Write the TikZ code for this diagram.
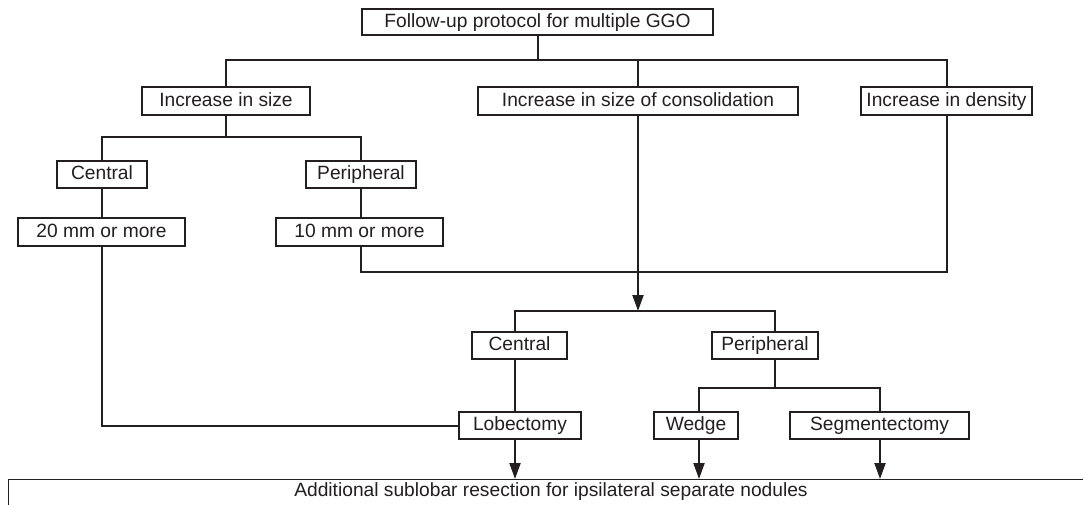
\documentclass[tikz,border=0pt]{standalone}
\usepackage{fontspec}
\setmainfont{Liberation Sans}
\usetikzlibrary{arrows.meta}
\definecolor{ink}{HTML}{231F20}
\begin{document}
\begin{tikzpicture}[x=1pt,y=-1pt,
  lbl/.style={text=ink, font=\fontsize{19.2}{21}\selectfont},
  box/.style={lbl, draw=ink, line width=1.2pt, inner sep=0pt, minimum height=27pt, text height=13.7pt, text depth=3.4pt},
  conn/.style={draw=ink, line width=2pt},
  arr/.style={conn, -{Triangle[length=16pt,width=11pt]}}]
\useasboundingbox (0,0) rectangle (1083,505);
\fill[white] (0,0) rectangle (1083,505);
% nodes
\node[box, minimum width=351pt, minimum height=26pt] (top) at (537.5,22) {Follow-up protocol for multiple GGO};
\node[box, minimum width=168pt, minimum height=28pt] (inc) at (226,101) {Increase in size};
\node[box, minimum width=320pt, minimum height=28pt] (cons) at (638,101) {Increase in size of consolidation};
\node[box, minimum width=171pt, minimum height=28pt] (dens) at (946.5,101) {Increase in density};
\node[box, minimum width=90pt] (c1) at (102,174.5) {Central};
\node[box, minimum width=110pt] (p1) at (361,174.5) {Peripheral};
\node[box, minimum width=167pt, minimum height=28pt] (t20) at (101.5,232) {20 mm or more};
\node[box, minimum width=167pt, minimum height=28pt] (t10) at (359.5,232) {10 mm or more};
\node[box, minimum width=95pt] (c2) at (519.5,345.5) {Central};
\node[box, minimum width=106pt] (p2) at (765,345.5) {Peripheral};
\node[box, minimum width=122pt] (lob) at (520,425.5) {Lobectomy};
\node[box, minimum width=84pt] (wed) at (696,425.5) {Wedge};
\node[box, minimum width=179pt] (seg) at (879.5,425.5) {Segmentectomy};
\node[draw=ink, line width=1.2pt, inner sep=0pt, minimum width=1100pt, minimum height=60pt, anchor=north west] (bot) at (8,479) {};
\node[lbl, anchor=base, inner sep=0pt] (bottxt) at (551,496) {Additional sublobar resection for ipsilateral separate nodules};
% helper coordinates
\coordinate (y1) at (0,60);
\coordinate (y2) at (0,137);
\coordinate (y3) at (0,272);
\coordinate (y4) at (0,311);
\coordinate (y5) at (0,388);
\coordinate (vc) at (515,0);
\coordinate (vp) at (775,0);
\coordinate (vw) at (699,0);
\coordinate (vs) at (880,0);
% connectors
\draw[conn] (top.south) -- (top.south |- y1);
\draw[conn] (inc.north) -- (inc.north |- y1) -- (dens.north |- y1) -- (dens.north);
\draw[conn] (cons.north) -- (cons.north |- y1);
\draw[conn] (inc.south) -- (inc.south |- y2);
\draw[conn] (c1.north) -- (c1.north |- y2) -- (p1.north |- y2) -- (p1.north);
\draw[conn] (c1.south) -- (c1.south |- t20.north);
\draw[conn] (p1.south) -- (p1.south |- t10.north);
\draw[conn] (c1.south |- t20.south) -- (c1.south |- lob.west) -- (lob.west);
\draw[conn] (p1.south |- t10.south) -- (p1.south |- y3) -- (dens.south |- y3) -- (dens.south);
\draw[arr] (cons.south) -- (cons.south |- y4);
\draw[conn] (vc |- c2.north) -- (vc |- y4) -- (vp |- y4) -- (vp |- p2.north);
\draw[conn] (vc |- c2.south) -- (vc |- lob.north);
\draw[conn] (vp |- p2.south) -- (vp |- y5);
\draw[conn] (vw |- wed.north) -- (vw |- y5) -- (vs |- y5) -- (vs |- seg.north);
\draw[arr] (vc |- lob.south) -- (vc |- bot.north);
\draw[arr] (vw |- wed.south) -- (vw |- bot.north);
\draw[arr] (vs |- seg.south) -- (vs |- bot.north);
\end{tikzpicture}
\end{document}
